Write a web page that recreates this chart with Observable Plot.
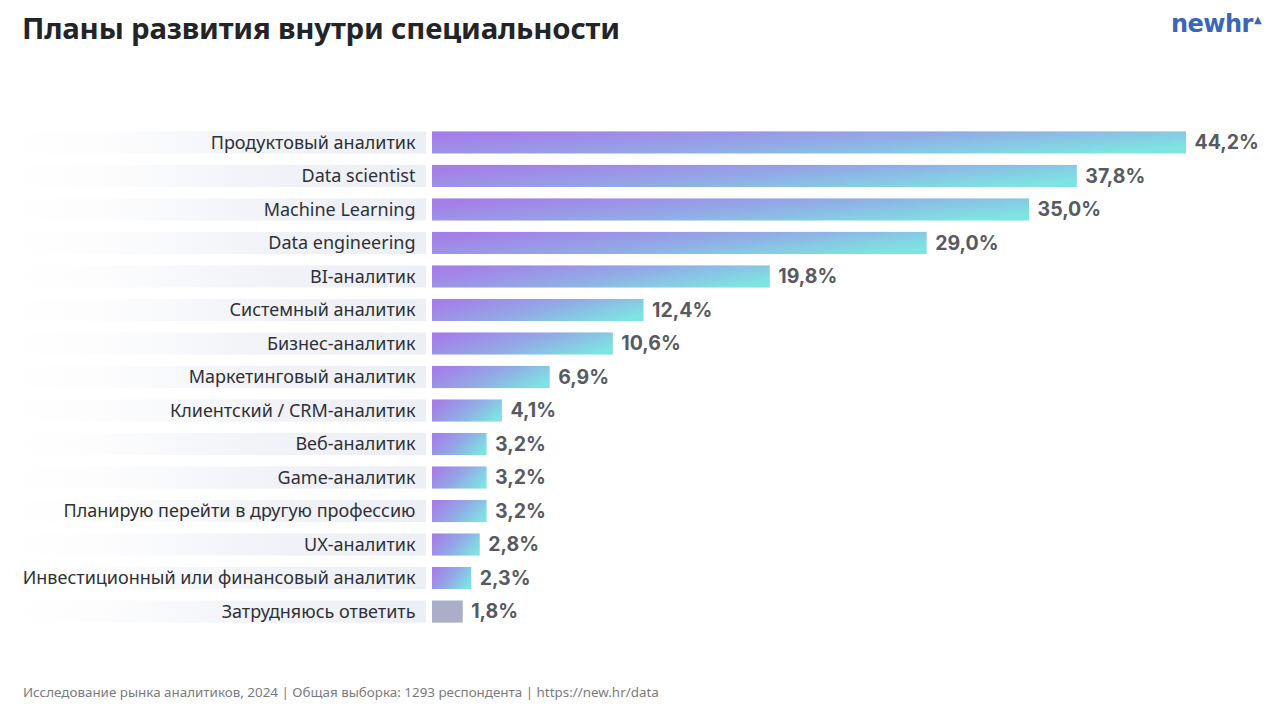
<!DOCTYPE html>
<html>
<head>
<meta charset="utf-8">
<script src="https://cdn.jsdelivr.net/npm/d3@7"></script>
<script src="https://cdn.jsdelivr.net/npm/@observablehq/plot@0.6"></script>
<style>
  html, body { margin: 0; padding: 0; background: #ffffff; }
  body { width: 1280px; height: 720px; position: relative; overflow: hidden; font-family: "Noto Sans", sans-serif; }
  #title { position: absolute; left: 22px; top: 8px; font-size: 29.4px; font-weight: 700; color: #222428; letter-spacing: -0.2px; }
  #logo { position: absolute; left: 1171px; top: 10px; font-size: 24px; font-weight: 800; color: #3b66b7; letter-spacing: -0.5px; font-family: "DejaVu Sans", sans-serif; }
  #logo span { font-size: 10px; vertical-align: 9px; margin-left: 1px; }
  #chart { position: absolute; left: 0; top: 80px; }
  #footer { position: absolute; left: 23px; top: 683px; font-size: 13.4px; color: #7a7b80; }
</style>
</head>
<body>
<div id="title">Планы развития внутри специальности</div>
<div id="logo">newhr<span>▲</span></div>
<div id="chart"></div>
<div id="footer">Исследование рынка аналитиков, 2024 | Общая выборка: 1293 респондента | https://new.hr/data</div>
<script>
const categories = [
  "Продуктовый аналитик",
  "Data scientist",
  "Machine Learning",
  "Data engineering",
  "BI-аналитик",
  "Системный аналитик",
  "Бизнес-аналитик",
  "Маркетинговый аналитик",
  "Клиентский / CRM-аналитик",
  "Веб-аналитик",
  "Game-аналитик",
  "Планирую перейти в другую профессию",
  "UX-аналитик",
  "Инвестиционный или финансовый аналитик",
  "Затрудняюсь ответить"
];
const values = [44.2, 37.8, 35.0, 29.0, 19.8, 12.4, 10.6, 6.9, 4.1, 3.2, 3.2, 3.2, 2.8, 2.3, 1.8];
const neutralCategory = "Затрудняюсь ответить";

const data = categories.map((c, i) => ({category: c, value: values[i]}));
const fmt = v => v.toFixed(1).replace(".", ",") + "%";

const chart = Plot.plot({
  width: 1280,
  height: 580,
  marginLeft: 432,
  marginRight: 94,
  marginTop: 40,
  marginBottom: 26,
  style: {fontFamily: "Noto Sans, sans-serif", background: "transparent"},
  x: {domain: [0, d3.max(values)], axis: null},
  y: {domain: categories, padding: 0.34, round: false, label: null},
  marks: [
    Plot.axisY({tickSize: 0, tickPadding: 17, fontSize: 18, fill: "#2e3036", label: null}),
    Plot.barX(data.filter(d => d.category !== neutralCategory), {x: "value", y: "category", fill: "url(#barGrad)"}),
    Plot.barX(data.filter(d => d.category === neutralCategory), {x: "value", y: "category", fill: "#a9afc8"}),
    Plot.text(data, {x: "value", y: "category", text: d => fmt(d.value), dx: 8, textAnchor: "start", fontSize: 19.5, fontWeight: 700, fill: "#575a63", fontFamily: "Inter, sans-serif"})
  ]
});

// gradient definitions
const svg = d3.select(chart);
const defs = svg.insert("defs", ":first-child");
const g = defs.append("linearGradient").attr("id", "barGrad").attr("x1", 0).attr("y1", 0.3).attr("x2", 1).attr("y2", 0.7);
g.append("stop").attr("offset", "0%").attr("stop-color", "#a47fe8");
g.append("stop").attr("offset", "50%").attr("stop-color", "#92aae6");
g.append("stop").attr("offset", "100%").attr("stop-color", "#7de4e2");
const lg = defs.append("linearGradient").attr("id", "labelGrad").attr("x1", 0).attr("y1", 0).attr("x2", 1).attr("y2", 0);
lg.append("stop").attr("offset", "0%").attr("stop-color", "#eef0f6").attr("stop-opacity", 0);
lg.append("stop").attr("offset", "25%").attr("stop-color", "#eef0f6").attr("stop-opacity", 0.15);
lg.append("stop").attr("offset", "65%").attr("stop-color", "#eef0f6").attr("stop-opacity", 0.85);
lg.append("stop").attr("offset", "100%").attr("stop-color", "#edeff6").attr("stop-opacity", 1);

// label background bands, positioned by the plot's y scale
const y = chart.scale("y");
const bandH = y.bandwidth;
const bands = svg.insert("g", "g").attr("class", "label-bands");
categories.forEach(c => {
  bands.append("rect")
    .attr("x", 0)
    .attr("width", 426)
    .attr("y", y.apply(c))
    .attr("height", bandH)
    .attr("fill", "url(#labelGrad)");
});

document.getElementById("chart").appendChild(chart);
</script>
</body>
</html>
